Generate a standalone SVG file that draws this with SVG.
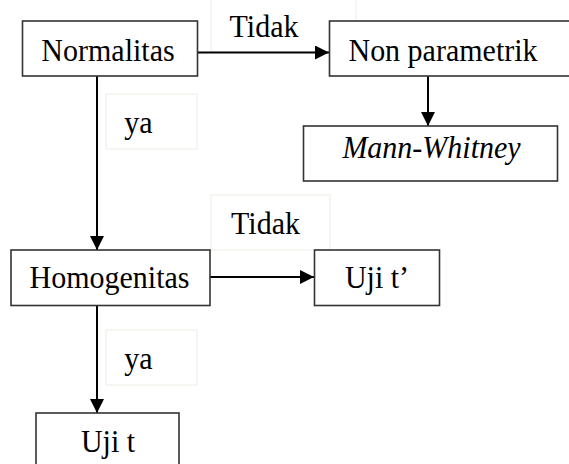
<svg xmlns="http://www.w3.org/2000/svg" width="569" height="464" viewBox="0 0 569 464">
<defs>
<style>
.node rect{fill:#fff;stroke:#333;stroke-width:1.6}
.lbl rect{fill:#fff;stroke:#efebe2;stroke-width:1}
.edge{stroke:#000;stroke-width:2;fill:none}
</style>
<marker id="ah" viewBox="0 0 14 14" refX="14" refY="7" markerWidth="14" markerHeight="14" markerUnits="userSpaceOnUse" orient="auto">
<path d="M0,0 L14,7 L0,14 Z" fill="#000"/>
</marker>
</defs>
<rect width="569" height="464" fill="#fff"/>
<g id="labels" class="lbl">
<g id="lbl-tidak1"><rect x="211" y="-40" width="145" height="92"/><text transform="translate(264,37) scale(1,1.08)" font-family="Liberation Serif" font-size="30" text-anchor="middle">Tidak</text></g>
<g id="lbl-ya1"><rect x="106" y="94" width="91" height="55"/><text transform="translate(138.5,133) scale(1,1.08)" font-family="Liberation Serif" font-size="30" text-anchor="middle">ya</text></g>
<g id="lbl-tidak2"><rect x="211" y="195" width="119" height="55"/><text transform="translate(265.5,234) scale(1,1.08)" font-family="Liberation Serif" font-size="30" text-anchor="middle">Tidak</text></g>
<g id="lbl-ya2"><rect x="106" y="330" width="91" height="55"/><text transform="translate(138.5,369) scale(1,1.08)" font-family="Liberation Serif" font-size="30" text-anchor="middle">ya</text></g>
</g>
<g id="connectors">
<line class="edge" x1="197" y1="52.5" x2="329" y2="52.5" marker-end="url(#ah)"/>
<line class="edge" x1="97" y1="76" x2="97" y2="250" marker-end="url(#ah)"/>
<line class="edge" x1="428" y1="76" x2="428" y2="126" marker-end="url(#ah)"/>
<line class="edge" x1="210" y1="277" x2="314" y2="277" marker-end="url(#ah)"/>
<line class="edge" x1="97" y1="305" x2="97" y2="413" marker-end="url(#ah)"/>
</g>
<g id="normalitas" class="node"><rect x="22.5" y="21" width="175" height="55"/><text transform="translate(108,61) scale(1,1.08)" font-family="Liberation Serif" font-size="30" text-anchor="middle">Normalitas</text></g>
<g id="nonparametrik" class="node"><rect x="329.5" y="21" width="250" height="55"/><text transform="translate(443,61) scale(1,1.08)" font-family="Liberation Serif" font-size="30" text-anchor="middle">Non parametrik</text></g>
<g id="mannwhitney" class="node"><rect x="303.5" y="126" width="254" height="55"/><text transform="translate(431.5,158) scale(1,1.08)" font-family="Liberation Serif" font-size="30" font-style="italic" text-anchor="middle">Mann-Whitney</text></g>
<g id="homogenitas" class="node"><rect x="11" y="250" width="199" height="55.5"/><text transform="translate(109.5,288) scale(1,1.08)" font-family="Liberation Serif" font-size="30" text-anchor="middle">Homogenitas</text></g>
<g id="ujit2" class="node"><rect x="314.5" y="250" width="125" height="55.5"/><text transform="translate(377,288) scale(1,1.08)" font-family="Liberation Serif" font-size="30" text-anchor="middle">Uji t’</text></g>
<g id="ujit" class="node"><rect x="36" y="413" width="143" height="60"/><text transform="translate(108,452) scale(1,1.08)" font-family="Liberation Serif" font-size="30" text-anchor="middle">Uji t</text></g>
</svg>
